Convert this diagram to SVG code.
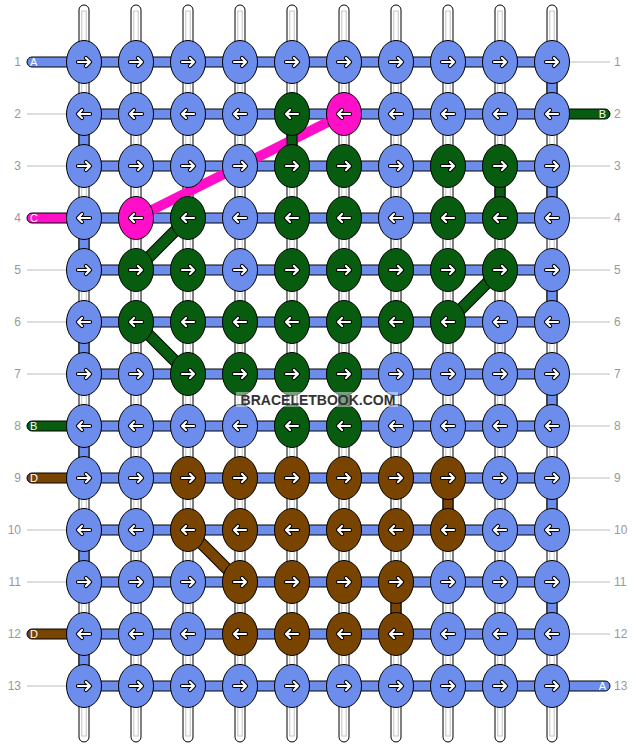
<svg xmlns="http://www.w3.org/2000/svg" xmlns:xlink="http://www.w3.org/1999/xlink" width="636" height="748" viewBox="0 0 636 748">
<style>
.num{font-family:"Liberation Sans",Arial,sans-serif;font-size:12px;fill:#999}
.gl{stroke:#bbb;stroke-width:1}
.str{fill:#fff;stroke:#000;stroke-width:1}
.stri{fill:none;stroke:#c4c4c4;stroke-width:1}
.bar{fill:#6c8deb;stroke:#000;stroke-width:1}
.tl{font-family:"Liberation Sans",Arial,sans-serif;font-size:11px;fill:#fff}
.vb{fill:#6c8deb;stroke:#000;stroke-width:1}
.vg{fill:#085c10;stroke:#000;stroke-width:1}
.vo{fill:#784400;stroke:#000;stroke-width:1}
.dout{stroke:#000;stroke-width:12;stroke-linecap:butt}
.dg{stroke:#085c10;stroke-width:10;stroke-linecap:butt}
.do{stroke:#784400;stroke-width:10;stroke-linecap:butt}
.dp{stroke:#ff10c8;stroke-width:10;stroke-linecap:butt}
.ao{fill:none;stroke:#000;stroke-width:4.2;stroke-linecap:round;stroke-linejoin:round}
.ai{fill:none;stroke:#fff;stroke-width:2.2;stroke-linecap:round;stroke-linejoin:round}
.kb{fill:#6c8deb;stroke:#000;stroke-width:1}
.kg{fill:#085c10;stroke:#000;stroke-width:1}
.kp{fill:#ff10c8;stroke:#000;stroke-width:1}
.ko{fill:#784400;stroke:#000;stroke-width:1}
.wm{font-family:"Liberation Sans",Arial,sans-serif;font-size:14px;font-weight:bold;fill:#333;text-anchor:middle}
</style>
<defs>
<path id="aR" d="M-6,0H6M2,-4L6,0L2,4"/>
<path id="aL" d="M6,0H-6M-2,-4L-6,0L-2,4"/>
<g id="bR"><ellipse rx="17.5" ry="21.5" class="kb"/><use xlink:href="#aR" class="ao"/><use xlink:href="#aR" class="ai"/></g>
<g id="bL"><ellipse rx="17.5" ry="21.5" class="kb"/><use xlink:href="#aL" class="ao"/><use xlink:href="#aL" class="ai"/></g>
<g id="gR"><ellipse rx="17.5" ry="21.5" class="kg"/><use xlink:href="#aR" class="ao"/><use xlink:href="#aR" class="ai"/></g>
<g id="gL"><ellipse rx="17.5" ry="21.5" class="kg"/><use xlink:href="#aL" class="ao"/><use xlink:href="#aL" class="ai"/></g>
<g id="pL"><ellipse rx="17.5" ry="21.5" class="kp"/><use xlink:href="#aL" class="ao"/><use xlink:href="#aL" class="ai"/></g>
<g id="oR"><ellipse rx="17.5" ry="21.5" class="ko"/><use xlink:href="#aR" class="ao"/><use xlink:href="#aR" class="ai"/></g>
<g id="oL"><ellipse rx="17.5" ry="21.5" class="ko"/><use xlink:href="#aL" class="ao"/><use xlink:href="#aL" class="ai"/></g>
</defs>
<rect width="636" height="748" fill="#fff"/>

<g id="row-labels">
<line class="gl" x1="27" y1="114" x2="66" y2="114"/>
<line class="gl" x1="27" y1="166" x2="66" y2="166"/>
<line class="gl" x1="27" y1="270" x2="66" y2="270"/>
<line class="gl" x1="27" y1="322" x2="66" y2="322"/>
<line class="gl" x1="27" y1="374" x2="66" y2="374"/>
<line class="gl" x1="27" y1="530" x2="66" y2="530"/>
<line class="gl" x1="27" y1="582" x2="66" y2="582"/>
<line class="gl" x1="27" y1="686" x2="66" y2="686"/>
<line class="gl" x1="570" y1="62" x2="610" y2="62"/>
<line class="gl" x1="570" y1="166" x2="610" y2="166"/>
<line class="gl" x1="570" y1="218" x2="610" y2="218"/>
<line class="gl" x1="570" y1="270" x2="610" y2="270"/>
<line class="gl" x1="570" y1="322" x2="610" y2="322"/>
<line class="gl" x1="570" y1="374" x2="610" y2="374"/>
<line class="gl" x1="570" y1="426" x2="610" y2="426"/>
<line class="gl" x1="570" y1="478" x2="610" y2="478"/>
<line class="gl" x1="570" y1="530" x2="610" y2="530"/>
<line class="gl" x1="570" y1="582" x2="610" y2="582"/>
<line class="gl" x1="570" y1="634" x2="610" y2="634"/>
<g class="num" text-anchor="end">
<text x="21" y="66">1</text><text x="21" y="118">2</text><text x="21" y="170">3</text><text x="21" y="222">4</text><text x="21" y="274">5</text><text x="21" y="326">6</text><text x="21" y="378">7</text><text x="21" y="430">8</text><text x="21" y="482">9</text><text x="21" y="534">10</text><text x="21" y="586">11</text><text x="21" y="638">12</text><text x="21" y="690">13</text>
</g>
<g class="num">
<text x="614" y="66">1</text><text x="614" y="118">2</text><text x="614" y="170">3</text><text x="614" y="222">4</text><text x="614" y="274">5</text><text x="614" y="326">6</text><text x="614" y="378">7</text><text x="614" y="430">8</text><text x="614" y="482">9</text><text x="614" y="534">10</text><text x="614" y="586">11</text><text x="614" y="638">12</text><text x="614" y="690">13</text>
</g>
</g>

<g id="strands">
<rect class="str" x="79" y="5" width="10" height="737" rx="5"/><rect class="stri" x="81.8" y="11" width="4.4" height="725"/>
<rect class="str" x="131" y="5" width="10" height="737" rx="5"/><rect class="stri" x="133.8" y="11" width="4.4" height="725"/>
<rect class="str" x="183" y="5" width="10" height="737" rx="5"/><rect class="stri" x="185.8" y="11" width="4.4" height="725"/>
<rect class="str" x="235" y="5" width="10" height="737" rx="5"/><rect class="stri" x="237.8" y="11" width="4.4" height="725"/>
<rect class="str" x="287" y="5" width="10" height="737" rx="5"/><rect class="stri" x="289.8" y="11" width="4.4" height="725"/>
<rect class="str" x="339" y="5" width="10" height="737" rx="5"/><rect class="stri" x="341.8" y="11" width="4.4" height="725"/>
<rect class="str" x="391" y="5" width="10" height="737" rx="5"/><rect class="stri" x="393.8" y="11" width="4.4" height="725"/>
<rect class="str" x="443" y="5" width="10" height="737" rx="5"/><rect class="stri" x="445.8" y="11" width="4.4" height="725"/>
<rect class="str" x="495" y="5" width="10" height="737" rx="5"/><rect class="stri" x="497.8" y="11" width="4.4" height="725"/>
<rect class="str" x="547" y="5" width="10" height="737" rx="5"/><rect class="stri" x="549.8" y="11" width="4.4" height="725"/>
</g>

<g id="connectors">
<rect class="bar" x="84" y="57" width="468" height="10"/>
<rect class="bar" x="84" y="109" width="468" height="10"/>
<rect class="bar" x="84" y="161" width="468" height="10"/>
<rect class="bar" x="84" y="213" width="468" height="10"/>
<rect class="bar" x="84" y="265" width="468" height="10"/>
<rect class="bar" x="84" y="317" width="468" height="10"/>
<rect class="bar" x="84" y="369" width="468" height="10"/>
<rect class="bar" x="84" y="421" width="468" height="10"/>
<rect class="bar" x="84" y="473" width="468" height="10"/>
<rect class="bar" x="84" y="525" width="468" height="10"/>
<rect class="bar" x="84" y="577" width="468" height="10"/>
<rect class="bar" x="84" y="629" width="468" height="10"/>
<rect class="bar" x="84" y="681" width="468" height="10"/>

<rect x="27" y="57" width="62" height="10" rx="5" fill="#6c8deb" stroke="#000"/>
<rect x="547" y="109" width="63" height="10" rx="5" fill="#085c10" stroke="#000"/>
<rect x="27" y="213" width="62" height="10" rx="5" fill="#ff10c8" stroke="#000"/>
<rect x="27" y="421" width="62" height="10" rx="5" fill="#085c10" stroke="#000"/>
<rect x="27" y="473" width="62" height="10" rx="5" fill="#784400" stroke="#000"/>
<rect x="27" y="629" width="62" height="10" rx="5" fill="#784400" stroke="#000"/>
<rect x="547" y="681" width="63" height="10" rx="5" fill="#6c8deb" stroke="#000"/>
<text class="tl" x="30" y="66">A</text>
<text class="tl" x="606" y="118" text-anchor="end">B</text>
<text class="tl" x="30" y="222">C</text>
<text class="tl" x="30" y="430">B</text>
<text class="tl" x="30" y="482">D</text>
<text class="tl" x="30" y="638">D</text>
<text class="tl" x="606" y="690" text-anchor="end">A</text>

<line class="dp" x1="136" y1="218" x2="344" y2="114"/>
<line class="dout" x1="188" y1="218" x2="136" y2="270"/><line class="dg" x1="188" y1="218" x2="136" y2="270"/>
<line class="dout" x1="500" y1="270" x2="448" y2="322"/><line class="dg" x1="500" y1="270" x2="448" y2="322"/>
<line class="dout" x1="136" y1="322" x2="188" y2="374"/><line class="dg" x1="136" y1="322" x2="188" y2="374"/>
<line class="dout" x1="188" y1="530" x2="240" y2="582"/><line class="do" x1="188" y1="530" x2="240" y2="582"/>

<rect class="vb" x="547" y="62" width="10" height="52"/>
<rect class="vb" x="79" y="114" width="10" height="52"/>
<rect class="vb" x="547" y="166" width="10" height="52"/>
<rect class="vb" x="79" y="218" width="10" height="52"/>
<rect class="vb" x="547" y="270" width="10" height="52"/>
<rect class="vb" x="79" y="322" width="10" height="52"/>
<rect class="vb" x="547" y="374" width="10" height="52"/>
<rect class="vb" x="79" y="426" width="10" height="52"/>
<rect class="vb" x="547" y="478" width="10" height="52"/>
<rect class="vb" x="79" y="530" width="10" height="52"/>
<rect class="vb" x="547" y="582" width="10" height="52"/>
<rect class="vb" x="79" y="634" width="10" height="52"/>
<rect class="vg" x="287" y="114" width="10" height="52"/>
<rect class="vg" x="495" y="166" width="10" height="52"/>
<rect class="vg" x="339" y="374" width="10" height="52"/>
<rect class="vo" x="443" y="478" width="10" height="52"/>
<rect class="vo" x="391" y="582" width="10" height="52"/>
</g>

<g id="r1c1"><use xlink:href="#bR" x="84" y="62"/></g>
<g id="r1c2"><use xlink:href="#bR" x="136" y="62"/></g>
<g id="r1c3"><use xlink:href="#bR" x="188" y="62"/></g>
<g id="r1c4"><use xlink:href="#bR" x="240" y="62"/></g>
<g id="r1c5"><use xlink:href="#bR" x="292" y="62"/></g>
<g id="r1c6"><use xlink:href="#bR" x="344" y="62"/></g>
<g id="r1c7"><use xlink:href="#bR" x="396" y="62"/></g>
<g id="r1c8"><use xlink:href="#bR" x="448" y="62"/></g>
<g id="r1c9"><use xlink:href="#bR" x="500" y="62"/></g>
<g id="r1c10"><use xlink:href="#bR" x="552" y="62"/></g>

<g id="r2c1"><use xlink:href="#bL" x="84" y="114"/></g>
<g id="r2c2"><use xlink:href="#bL" x="136" y="114"/></g>
<g id="r2c3"><use xlink:href="#bL" x="188" y="114"/></g>
<g id="r2c4"><use xlink:href="#bL" x="240" y="114"/></g>
<g id="r2c5"><use xlink:href="#gL" x="292" y="114"/></g>
<g id="r2c6"><use xlink:href="#pL" x="344" y="114"/></g>
<g id="r2c7"><use xlink:href="#bL" x="396" y="114"/></g>
<g id="r2c8"><use xlink:href="#bL" x="448" y="114"/></g>
<g id="r2c9"><use xlink:href="#bL" x="500" y="114"/></g>
<g id="r2c10"><use xlink:href="#bL" x="552" y="114"/></g>

<g id="r3c1"><use xlink:href="#bR" x="84" y="166"/></g>
<g id="r3c2"><use xlink:href="#bR" x="136" y="166"/></g>
<g id="r3c3"><use xlink:href="#bR" x="188" y="166"/></g>
<g id="r3c4"><use xlink:href="#bR" x="240" y="166"/></g>
<g id="r3c5"><use xlink:href="#gR" x="292" y="166"/></g>
<g id="r3c6"><use xlink:href="#gR" x="344" y="166"/></g>
<g id="r3c7"><use xlink:href="#bR" x="396" y="166"/></g>
<g id="r3c8"><use xlink:href="#gR" x="448" y="166"/></g>
<g id="r3c9"><use xlink:href="#gR" x="500" y="166"/></g>
<g id="r3c10"><use xlink:href="#bR" x="552" y="166"/></g>

<g id="r4c1"><use xlink:href="#bL" x="84" y="218"/></g>
<g id="r4c2"><use xlink:href="#pL" x="136" y="218"/></g>
<g id="r4c3"><use xlink:href="#gL" x="188" y="218"/></g>
<g id="r4c4"><use xlink:href="#bL" x="240" y="218"/></g>
<g id="r4c5"><use xlink:href="#gL" x="292" y="218"/></g>
<g id="r4c6"><use xlink:href="#gL" x="344" y="218"/></g>
<g id="r4c7"><use xlink:href="#bL" x="396" y="218"/></g>
<g id="r4c8"><use xlink:href="#gL" x="448" y="218"/></g>
<g id="r4c9"><use xlink:href="#gL" x="500" y="218"/></g>
<g id="r4c10"><use xlink:href="#bL" x="552" y="218"/></g>

<g id="r5c1"><use xlink:href="#bR" x="84" y="270"/></g>
<g id="r5c2"><use xlink:href="#gR" x="136" y="270"/></g>
<g id="r5c3"><use xlink:href="#gR" x="188" y="270"/></g>
<g id="r5c4"><use xlink:href="#bR" x="240" y="270"/></g>
<g id="r5c5"><use xlink:href="#gR" x="292" y="270"/></g>
<g id="r5c6"><use xlink:href="#gR" x="344" y="270"/></g>
<g id="r5c7"><use xlink:href="#gR" x="396" y="270"/></g>
<g id="r5c8"><use xlink:href="#gR" x="448" y="270"/></g>
<g id="r5c9"><use xlink:href="#gR" x="500" y="270"/></g>
<g id="r5c10"><use xlink:href="#bR" x="552" y="270"/></g>

<g id="r6c1"><use xlink:href="#bL" x="84" y="322"/></g>
<g id="r6c2"><use xlink:href="#gL" x="136" y="322"/></g>
<g id="r6c3"><use xlink:href="#gL" x="188" y="322"/></g>
<g id="r6c4"><use xlink:href="#gL" x="240" y="322"/></g>
<g id="r6c5"><use xlink:href="#gL" x="292" y="322"/></g>
<g id="r6c6"><use xlink:href="#gL" x="344" y="322"/></g>
<g id="r6c7"><use xlink:href="#gL" x="396" y="322"/></g>
<g id="r6c8"><use xlink:href="#gL" x="448" y="322"/></g>
<g id="r6c9"><use xlink:href="#bL" x="500" y="322"/></g>
<g id="r6c10"><use xlink:href="#bL" x="552" y="322"/></g>

<g id="r7c1"><use xlink:href="#bR" x="84" y="374"/></g>
<g id="r7c2"><use xlink:href="#bR" x="136" y="374"/></g>
<g id="r7c3"><use xlink:href="#gR" x="188" y="374"/></g>
<g id="r7c4"><use xlink:href="#gR" x="240" y="374"/></g>
<g id="r7c5"><use xlink:href="#gR" x="292" y="374"/></g>
<g id="r7c6"><use xlink:href="#gR" x="344" y="374"/></g>
<g id="r7c7"><use xlink:href="#bR" x="396" y="374"/></g>
<g id="r7c8"><use xlink:href="#bR" x="448" y="374"/></g>
<g id="r7c9"><use xlink:href="#bR" x="500" y="374"/></g>
<g id="r7c10"><use xlink:href="#bR" x="552" y="374"/></g>

<g id="r8c1"><use xlink:href="#bL" x="84" y="426"/></g>
<g id="r8c2"><use xlink:href="#bL" x="136" y="426"/></g>
<g id="r8c3"><use xlink:href="#bL" x="188" y="426"/></g>
<g id="r8c4"><use xlink:href="#bL" x="240" y="426"/></g>
<g id="r8c5"><use xlink:href="#gL" x="292" y="426"/></g>
<g id="r8c6"><use xlink:href="#gL" x="344" y="426"/></g>
<g id="r8c7"><use xlink:href="#bL" x="396" y="426"/></g>
<g id="r8c8"><use xlink:href="#bL" x="448" y="426"/></g>
<g id="r8c9"><use xlink:href="#bL" x="500" y="426"/></g>
<g id="r8c10"><use xlink:href="#bL" x="552" y="426"/></g>

<g id="r9c1"><use xlink:href="#bR" x="84" y="478"/></g>
<g id="r9c2"><use xlink:href="#bR" x="136" y="478"/></g>
<g id="r9c3"><use xlink:href="#oR" x="188" y="478"/></g>
<g id="r9c4"><use xlink:href="#oR" x="240" y="478"/></g>
<g id="r9c5"><use xlink:href="#oR" x="292" y="478"/></g>
<g id="r9c6"><use xlink:href="#oR" x="344" y="478"/></g>
<g id="r9c7"><use xlink:href="#oR" x="396" y="478"/></g>
<g id="r9c8"><use xlink:href="#oR" x="448" y="478"/></g>
<g id="r9c9"><use xlink:href="#bR" x="500" y="478"/></g>
<g id="r9c10"><use xlink:href="#bR" x="552" y="478"/></g>

<g id="r10c1"><use xlink:href="#bL" x="84" y="530"/></g>
<g id="r10c2"><use xlink:href="#bL" x="136" y="530"/></g>
<g id="r10c3"><use xlink:href="#oL" x="188" y="530"/></g>
<g id="r10c4"><use xlink:href="#oL" x="240" y="530"/></g>
<g id="r10c5"><use xlink:href="#oL" x="292" y="530"/></g>
<g id="r10c6"><use xlink:href="#oL" x="344" y="530"/></g>
<g id="r10c7"><use xlink:href="#oL" x="396" y="530"/></g>
<g id="r10c8"><use xlink:href="#oL" x="448" y="530"/></g>
<g id="r10c9"><use xlink:href="#bL" x="500" y="530"/></g>
<g id="r10c10"><use xlink:href="#bL" x="552" y="530"/></g>

<g id="r11c1"><use xlink:href="#bR" x="84" y="582"/></g>
<g id="r11c2"><use xlink:href="#bR" x="136" y="582"/></g>
<g id="r11c3"><use xlink:href="#bR" x="188" y="582"/></g>
<g id="r11c4"><use xlink:href="#oR" x="240" y="582"/></g>
<g id="r11c5"><use xlink:href="#oR" x="292" y="582"/></g>
<g id="r11c6"><use xlink:href="#oR" x="344" y="582"/></g>
<g id="r11c7"><use xlink:href="#oR" x="396" y="582"/></g>
<g id="r11c8"><use xlink:href="#bR" x="448" y="582"/></g>
<g id="r11c9"><use xlink:href="#bR" x="500" y="582"/></g>
<g id="r11c10"><use xlink:href="#bR" x="552" y="582"/></g>

<g id="r12c1"><use xlink:href="#bL" x="84" y="634"/></g>
<g id="r12c2"><use xlink:href="#bL" x="136" y="634"/></g>
<g id="r12c3"><use xlink:href="#bL" x="188" y="634"/></g>
<g id="r12c4"><use xlink:href="#oL" x="240" y="634"/></g>
<g id="r12c5"><use xlink:href="#oL" x="292" y="634"/></g>
<g id="r12c6"><use xlink:href="#oL" x="344" y="634"/></g>
<g id="r12c7"><use xlink:href="#oL" x="396" y="634"/></g>
<g id="r12c8"><use xlink:href="#bL" x="448" y="634"/></g>
<g id="r12c9"><use xlink:href="#bL" x="500" y="634"/></g>
<g id="r12c10"><use xlink:href="#bL" x="552" y="634"/></g>

<g id="r13c1"><use xlink:href="#bR" x="84" y="686"/></g>
<g id="r13c2"><use xlink:href="#bR" x="136" y="686"/></g>
<g id="r13c3"><use xlink:href="#bR" x="188" y="686"/></g>
<g id="r13c4"><use xlink:href="#bR" x="240" y="686"/></g>
<g id="r13c5"><use xlink:href="#bR" x="292" y="686"/></g>
<g id="r13c6"><use xlink:href="#bR" x="344" y="686"/></g>
<g id="r13c7"><use xlink:href="#bR" x="396" y="686"/></g>
<g id="r13c8"><use xlink:href="#bR" x="448" y="686"/></g>
<g id="r13c9"><use xlink:href="#bR" x="500" y="686"/></g>
<g id="r13c10"><use xlink:href="#bR" x="552" y="686"/></g>

<g id="watermark">
<rect x="236" y="392" width="162" height="15" fill="#fff" fill-opacity="0.45"/>
<text class="wm" x="318" y="404.5">BRACELETBOOK.COM</text>
</g>
</svg>
